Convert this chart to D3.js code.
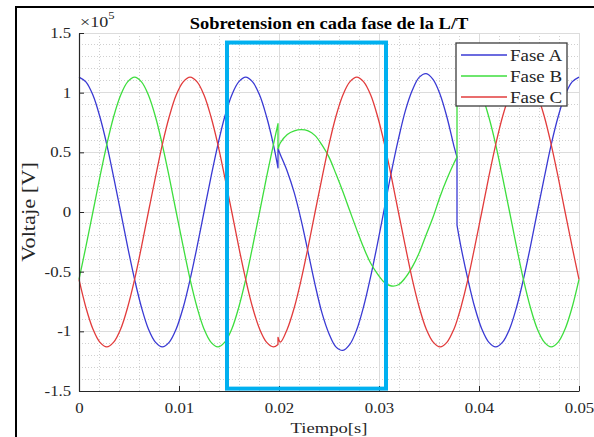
<!DOCTYPE html>
<html>
<head>
<meta charset="utf-8">
<script src="https://cdn.jsdelivr.net/npm/d3@7"></script>
<style>
  body { margin: 0; background: #fff; }
  svg { display: block; }
</style>
</head>
<body>
<div id="chart"></div>
<script>
// tiempo en ms (los instantes repetidos marcan los saltos de 19.9 ms y 37.8 ms)
const tiempo = [0, 0.69, 1.39, 2.08, 2.78, 3.47, 4.17, 4.86, 5.56, 6.25,
  6.94, 7.64, 8.33, 9.03, 9.72, 10.42, 11.11, 11.81, 12.5, 13.19,
  13.89, 14.58, 15.28, 15.97, 16.67, 17.36, 18.06, 18.75, 19.44, 19.9,
  19.9, 20.14, 20.83, 21.53, 22.22, 22.92, 23.61, 24.31, 25, 25.69,
  26.39, 27.08, 27.78, 28.47, 29.17, 29.86, 30.56, 31.25, 31.94, 32.64,
  33.33, 34.03, 34.72, 35.42, 36.11, 36.81, 37.5, 37.8, 37.8, 38.19,
  38.89, 39.58, 40.28, 40.97, 41.67, 42.36, 43.06, 43.75, 44.44, 45.14,
  45.83, 46.53, 47.22, 47.92, 48.61, 49.31, 50];

// voltaje x 10^5 V
const faseA = [1.13, 1.09, 0.98, 0.80, 0.565, 0.29, 0, -0.29, -0.565, -0.80,
  -0.98, -1.09, -1.13, -1.09, -0.98, -0.80, -0.565, -0.29, 0, 0.29,
  0.565, 0.80, 0.98, 1.09, 1.13, 1.09, 0.98, 0.80, 0.565, 0.37,
  0.53, 0.48, 0.34, 0.16, -0.07, -0.34, -0.61, -0.85, -1.02, -1.13,
  -1.16, -1.11, -0.985, -0.79, -0.54, -0.26, 0.04, 0.34, 0.61, 0.85,
  1.02, 1.13, 1.16, 1.11, 0.985, 0.79, 0.55, 0.46, -0.11, -0.29,
  -0.565, -0.80, -0.98, -1.09, -1.13, -1.09, -0.98, -0.80, -0.565, -0.29,
  0, 0.29, 0.565, 0.80, 0.98, 1.09, 1.13];

const faseB = [-0.565, -0.29, 0, 0.29, 0.565, 0.80, 0.98, 1.09, 1.13, 1.09,
  0.98, 0.80, 0.565, 0.29, 0, -0.29, -0.565, -0.80, -0.98, -1.09,
  -1.13, -1.09, -0.98, -0.80, -0.565, -0.29, 0, 0.29, 0.565, 0.74,
  0.53, 0.58, 0.65, 0.68, 0.69, 0.68, 0.64, 0.56, 0.46, 0.32,
  0.17, 0.01, -0.15, -0.3, -0.43, -0.52, -0.59, -0.62, -0.61, -0.55,
  -0.46, -0.34, -0.19, -0.04, 0.13, 0.28, 0.41, 0.46, 1.04, 1.09,
  1.13, 1.09, 0.98, 0.80, 0.565, 0.29, 0, -0.29, -0.565, -0.80,
  -0.98, -1.09, -1.13, -1.09, -0.98, -0.80, -0.565];

const faseC = [-0.565, -0.80, -0.98, -1.09, -1.13, -1.09, -0.98, -0.80, -0.565, -0.29,
  0, 0.29, 0.565, 0.80, 0.98, 1.09, 1.13, 1.09, 0.98, 0.80,
  0.565, 0.29, 0, -0.29, -0.565, -0.80, -0.98, -1.09, -1.13, -1.11,
  -1.05, -1.09, -0.98, -0.80, -0.565, -0.29, 0, 0.29, 0.565, 0.80,
  0.98, 1.09, 1.13, 1.09, 0.98, 0.80, 0.565, 0.29, 0, -0.29,
  -0.565, -0.80, -0.98, -1.09, -1.13, -1.09, -0.98, -0.91, -0.91, -0.80,
  -0.565, -0.29, 0, 0.29, 0.565, 0.80, 0.98, 1.09, 1.13, 1.09,
  0.98, 0.80, 0.565, 0.29, 0, -0.29, -0.565];

const xTicks = [0, 0.01, 0.02, 0.03, 0.04, 0.05];
const yTicks = [-1.5, -1, -0.5, 0, 0.5, 1, 1.5];
const nombres = ["Fase A", "Fase B", "Fase C"];
// recuadro resaltado: t0, t1 (s), v0, v1
const zona = [0.0148, 0.0307, -1.48, 1.42];

const W = 594, H = 437;
const serif = "'Liberation Serif', 'Times New Roman', serif";
const SX = 1.2;           // el original esta estirado en horizontal
const ink = "#262626";
const colores = ["#3a3ad4", "#3ede3e", "#e23c3c"];

const svg = d3.select("#chart").append("svg")
  .attr("width", W).attr("height", H);

const x = d3.scaleLinear().domain([0, 0.05]).range([79, 579]);
const y = d3.scaleLinear().domain([-1.5, 1.5]).range([391, 33]);

// marco exterior
svg.append("rect")
  .attr("x", 16).attr("y", 7).attr("width", 700).attr("height", 600)
  .attr("fill", "none").attr("stroke", "#000").attr("stroke-width", 2);

// rejilla
const grid = svg.append("g").attr("shape-rendering", "crispEdges");
grid.selectAll(".mx").data(x.ticks(25)).join("line")
  .attr("x1", d => x(d)).attr("x2", d => x(d))
  .attr("y1", y(-1.5)).attr("y2", y(1.5))
  .attr("stroke", "#d0d0d0").attr("stroke-dasharray", "1,2");
grid.selectAll(".my").data(y.ticks(30)).join("line")
  .attr("y1", d => y(d)).attr("y2", d => y(d))
  .attr("x1", x(0)).attr("x2", x(0.05))
  .attr("stroke", "#d0d0d0").attr("stroke-dasharray", "1,2");
grid.selectAll(".gx").data(xTicks).join("line")
  .attr("x1", d => x(d)).attr("x2", d => x(d))
  .attr("y1", y(-1.5)).attr("y2", y(1.5))
  .attr("stroke", "#dcdcdc");
grid.selectAll(".gy").data(yTicks).join("line")
  .attr("y1", d => y(d)).attr("y2", d => y(d))
  .attr("x1", x(0)).attr("x2", x(0.05))
  .attr("stroke", "#dcdcdc");

// curvas: se parten en los instantes repetidos y se unen con tramos rectos
const linea = d3.line()
  .x(d => x(d[0])).y(d => y(d[1]))
  .curve(d3.curveCatmullRom.alpha(0.5));

function trazo(vals) {
  const segs = [[]];
  tiempo.forEach((t, i) => {
    if (i > 0 && t === tiempo[i - 1]) segs.push([]);
    segs[segs.length - 1].push([t / 1000, vals[i]]);
  });
  return segs.map((s, i) => {
    const p = linea(s);
    return i === 0 ? p : "L" + p.slice(1);
  }).join("");
}

[faseA, faseB, faseC].forEach((vals, i) => {
  svg.append("path")
    .attr("d", trazo(vals))
    .attr("fill", "none")
    .attr("stroke", colores[i])
    .attr("stroke-width", 1.3)
    .attr("stroke-linejoin", "round");
});

// ejes
const ax = svg.append("g")
  .attr("transform", `translate(0,${y(-1.5)})`)
  .call(d3.axisBottom(x).tickValues(xTicks).tickSizeInner(-5).tickSizeOuter(0)
    .tickPadding(12.5).tickFormat(d => d3.format("")(+d.toFixed(2))));
const ay = svg.append("g")
  .attr("transform", `translate(${x(0)},0)`)
  .call(d3.axisLeft(y).tickValues(yTicks).tickSizeInner(-5).tickSizeOuter(0)
    .tickPadding(6.5).tickFormat(d => String(d)));

[ax, ay].forEach(g => {
  g.attr("font-family", serif).attr("font-size", 14);
  g.select(".domain").attr("stroke", ink).attr("stroke-width", 1.2);
  g.selectAll(".tick line").attr("stroke", ink).attr("stroke-width", 1);
  g.selectAll(".tick text").attr("fill", ink)
    .attr("transform", `scale(${SX},1)`);
});

// textos
function texto(px, py, str, opts = {}) {
  const t = svg.append("text")
    .attr("transform", `translate(${px},${py}) scale(${opts.sx || SX},1)` +
      (opts.rot ? ` rotate(${opts.rot}) scale(${opts.len || 1},1)` : ""))
    .attr("font-family", serif)
    .attr("font-size", opts.size || 15)
    .attr("font-weight", opts.bold ? "bold" : "normal")
    .attr("text-anchor", opts.anchor || "start")
    .attr("fill", opts.fill || ink)
    .text(str);
  return t;
}

texto(329, 29, "Sobretension en cada fase de la L/T", { size: 16.5, bold: true, anchor: "middle", fill: "#000", sx: 1.12 });
texto(329, 433, "Tiempo[s]", { size: 15.5, anchor: "middle" });
texto(35, 212, "Voltaje [V]", { size: 16, anchor: "middle", rot: -90, sx: 1.15, len: 1.4 });

const exp = texto(80, 27, "\u00d710", { size: 15 });
exp.append("tspan").attr("font-size", 10.5).attr("dy", -8).text("5");

// leyenda
const ley = svg.append("g");
ley.append("rect")
  .attr("x", 456).attr("y", 43).attr("width", 111).attr("height", 63)
  .attr("fill", "#fff").attr("stroke", "#3c3c3c").attr("stroke-width", 1.3);
nombres.forEach((n, i) => {
  const cy = 55 + i * 21;
  ley.append("line")
    .attr("x1", 461).attr("x2", 507).attr("y1", cy).attr("y2", cy)
    .attr("stroke", colores[i]).attr("stroke-width", 1.3);
  texto(510, cy + 5.5, n, { size: 16.5, sx: 1.15 });
});

// recuadro resaltado
svg.append("rect")
  .attr("x", x(zona[0])).attr("y", y(zona[3]))
  .attr("width", x(zona[1]) - x(zona[0]))
  .attr("height", y(zona[2]) - y(zona[3]))
  .attr("fill", "none").attr("stroke", "#00b0f0").attr("stroke-width", 4);
</script>
</body>
</html>
